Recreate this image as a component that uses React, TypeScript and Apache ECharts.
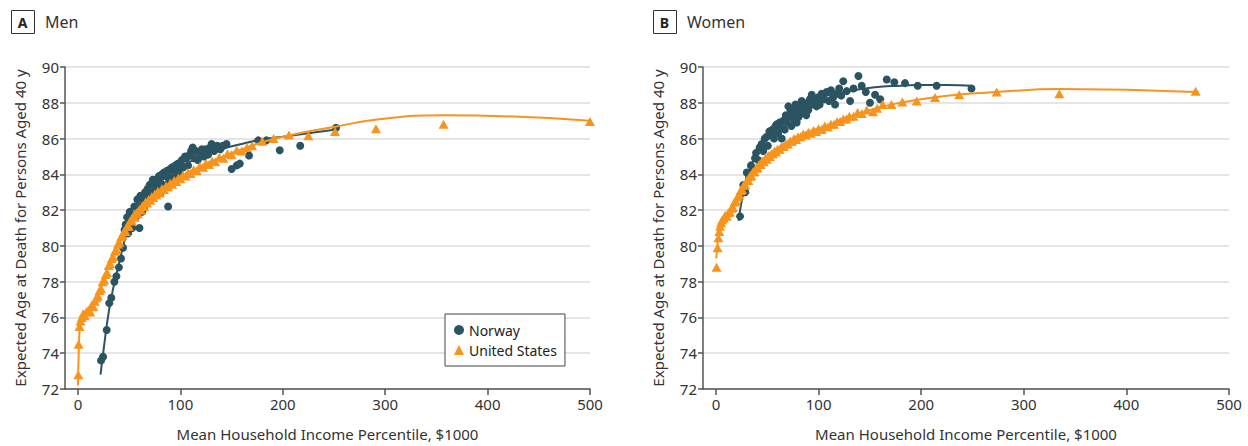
import React, { useEffect, useRef } from "react";
import * as echarts from "echarts";

const FONT = "'Noto Sans', sans-serif";
const TEAL = "#2b5462";
const ORANGE = "#f7941d";

const xTicks = [0, 100, 200, 300, 400, 500];
const yMin = 72;
const yMax = 90;

const panelTitles = ["Men", "Women"];
const panelLetters = ["A", "B"];
const legendNames = ["Norway", "United States"];
const xAxisTitle = "Mean Household Income Percentile, $1000";
const yAxisTitle = "Expected Age at Death for Persons Aged 40 y";

// Men – Norway percentile points
const norwayMen = [
  [22.5, 73.6], [24.5, 73.8], [28, 75.3], [30.5, 76.8], [32.5, 77.1], [35.5, 78.0], [37.5, 78.3], [40, 78.8], [42, 79.3], [44, 79.9],
  [45.5, 80.9], [46.5, 81.2], [48, 81.6], [49, 80.7], [50.5, 81.9], [51.5, 81.3], [53, 81.0], [55, 82.2], [56.5, 81.6], [58, 82.6],
  [59, 82.2], [60, 81.0], [61, 82.8], [62.5, 81.9], [63.5, 82.6], [64.5, 82.1], [65.5, 83.0], [67, 82.4], [68, 83.2], [69, 82.7],
  [70, 83.4], [71, 82.6], [72, 83.5], [73, 83.7], [74, 82.9], [75, 83.5], [76, 83.1], [77, 83.7], [78, 83.2], [79, 83.9],
  [80, 83.6], [81, 83.0], [82, 84.0], [83, 83.4], [84, 84.1], [85, 83.3], [86, 83.9], [87, 84.2], [88, 82.2], [89, 83.6],
  [90, 84.3], [91, 83.8], [92, 84.4], [93, 83.7], [95, 84.5], [96, 84.0], [97.5, 84.6], [99, 84.2], [100, 84.5], [101.5, 84.8],
  [103, 84.4], [104.5, 85.0], [106, 84.9], [107.5, 84.5], [109, 85.1], [110.5, 85.3], [112, 85.5], [113.5, 84.9], [115, 85.3], [117, 84.8],
  [119, 85.2], [121, 85.4], [123, 85.0], [125, 85.4], [127, 85.1], [129, 85.5], [130.5, 85.7], [133, 85.3], [136, 85.6], [139, 85.4],
  [141.5, 85.6], [145, 85.7], [150, 84.3], [155, 84.5], [158, 84.6], [167, 85.05], [176, 85.9], [184, 85.9], [197, 85.35], [217, 85.6], [252, 86.6],
];
const norwayMenFit = [
  [22, 72.8], [25, 74.2], [30, 76.3], [35, 77.8], [40, 79.0], [45, 80.2], [50, 81.1], [55, 81.8], [60, 82.3], [70, 83.0],
  [80, 83.6], [90, 84.0], [100, 84.4], [120, 85.0], [140, 85.4], [160, 85.7], [180, 85.95], [200, 86.1], [225, 86.3], [252, 86.5],
];

// Men – United States percentile points
const usMen = [
  [0.3, 72.8], [0.6, 74.5], [1.5, 75.5], [2.5, 75.8], [3.6, 76.0], [5, 76.2], [6.5, 76.1], [8, 76.3], [10, 76.4], [12, 76.3],
  [13.5, 76.7], [15, 76.6], [16.5, 76.9], [18, 77.1], [19.5, 77.2], [21, 77.5], [22.5, 77.6], [24, 78.0], [25.5, 78.1], [27, 78.4],
  [28.5, 78.5], [30, 78.9], [31.5, 79.0], [33, 79.3], [34.5, 79.4], [36, 79.7], [37.5, 79.8], [39, 80.1], [40.5, 80.2], [42, 80.5],
  [43.5, 80.6], [45, 80.8], [46.5, 80.8], [48, 81.1], [49.5, 81.1], [51, 81.4], [52.5, 81.4], [54, 81.65], [55.5, 81.6], [57, 81.85],
  [58.5, 81.8], [60, 82.05], [61.5, 82.0], [63, 82.25], [64.5, 82.2], [66, 82.45], [67.5, 82.4], [69, 82.6], [70.5, 82.55], [72, 82.75],
  [73.5, 82.7], [75, 82.9], [76.5, 82.85], [78, 83.05], [80, 82.95], [82, 83.2], [84, 83.15], [86, 83.35], [88, 83.3], [90, 83.5],
  [92, 83.45], [94, 83.65], [96, 83.6], [98, 83.8], [100, 83.75], [102.5, 83.95], [105, 83.9], [107.5, 84.1], [110, 84.05], [113, 84.25],
  [116, 84.2], [119, 84.45], [122, 84.4], [125, 84.6], [128, 84.55], [131, 84.75], [134, 84.7], [138, 84.95], [142, 84.9], [146, 85.15],
  [150, 85.1], [155, 85.35], [160, 85.3], [165, 85.5], [170, 85.6], [180, 85.85], [191, 86.0], [206, 86.2], [225, 86.15], [251, 86.4],
  [291, 86.55], [357, 86.8], [500, 86.95],
];
const usMenFit = [
  [0, 72.2], [1, 74.6], [2, 75.5], [4, 76.0], [8, 76.3], [14, 76.7], [20, 77.3], [30, 78.9], [40, 80.2], [50, 81.2],
  [60, 81.95], [70, 82.55], [80, 83.05], [100, 83.8], [120, 84.4], [140, 84.95], [160, 85.4], [180, 85.8], [200, 86.1], [225, 86.4],
  [250, 86.65], [290, 87.05], [357, 87.3], [500, 87.0],
];

// Women – Norway percentile points
const norwayWomen = [
  [23.4, 81.65], [26.6, 83.4], [28.5, 83.0], [30, 84.1], [32, 83.8], [34, 84.5], [36, 84.3], [38, 84.9], [39, 85.2], [41, 84.8],
  [42.5, 85.5], [44.5, 85.7], [46, 85.3], [47.5, 86.0], [49.4, 86.1], [50.5, 85.6], [52, 86.4], [53.5, 86.2], [55, 86.5], [56.5, 86.0],
  [58, 86.7], [59.2, 86.8], [60.5, 86.3], [62, 86.9], [63, 86.6], [64, 86.0], [65.5, 87.0], [67, 86.5], [68, 87.3], [69, 86.9],
  [70.5, 87.8], [71.5, 87.2], [72.5, 87.6], [73.5, 86.7], [74.5, 87.4], [75.4, 87.6], [76.5, 87.0], [77.5, 87.9], [78.6, 86.9], [79.5, 87.5],
  [80.5, 87.2], [81.5, 87.7], [82.5, 87.4], [83.5, 88.1], [85, 88.0], [86, 87.5], [87, 87.8], [88, 87.3], [89, 87.9], [90, 87.6],
  [91.5, 88.2], [93.3, 88.45], [94.5, 87.9], [96, 88.1], [98, 87.8], [99.5, 88.3], [101, 87.9], [103, 88.5], [105, 88.2], [107.8, 88.6],
  [110, 88.1], [112, 88.7], [114, 88.3], [116, 87.9], [118, 88.5], [120, 88.8], [122, 88.4], [124, 89.2], [127.4, 88.65], [130.7, 88.1],
  [134, 88.8], [138.8, 89.5], [142, 88.95], [146, 88.6], [150, 88.0], [155, 88.45], [160, 88.2], [166.4, 89.3], [173.8, 89.15], [184.2, 89.1],
  [196.6, 88.95], [215, 88.95], [249, 88.8],
];
const norwayWomenFit = [
  [22, 81.4], [25, 82.5], [30, 83.8], [35, 84.6], [40, 85.2], [50, 86.1], [60, 86.8], [70, 87.3], [80, 87.7], [90, 88.0],
  [100, 88.25], [120, 88.55], [140, 88.75], [160, 88.9], [180, 88.95], [200, 89.0], [225, 89.0], [249, 88.95],
];

// Women – United States percentile points
const usWomen = [
  [0.5, 78.8], [1.5, 79.9], [2.3, 80.45], [3.2, 80.8], [4, 81.1], [5, 81.3], [6, 81.45], [7.5, 81.55], [9, 81.7], [10.5, 81.65],
  [12, 81.85], [13.6, 81.9], [15, 82.1], [16.5, 82.15], [18, 82.45], [19.5, 82.5], [21, 82.75], [22.5, 82.85], [24, 83.1], [25.5, 83.15],
  [27, 83.4], [28.5, 83.4], [30, 83.65], [31.5, 83.65], [33, 83.9], [34.5, 83.9], [36, 84.15], [37.5, 84.15], [39, 84.35], [40.5, 84.35],
  [42, 84.55], [43.5, 84.55], [45, 84.75], [46.5, 84.7], [48, 84.9], [49.5, 84.85], [51, 85.05], [52.5, 85.0], [54, 85.15], [55.5, 85.15],
  [57, 85.3], [58.5, 85.25], [60, 85.4], [62, 85.4], [64, 85.55], [66, 85.55], [68, 85.7], [70, 85.7], [72, 85.85], [74, 85.85],
  [76, 86.0], [78, 85.95], [80, 86.1], [82.5, 86.1], [85, 86.25], [87.5, 86.2], [90, 86.35], [92.5, 86.3], [95, 86.45], [97.5, 86.4],
  [100, 86.55], [103, 86.5], [106, 86.7], [109, 86.65], [112, 86.8], [115, 86.8], [118, 86.95], [121, 86.95], [124, 87.1], [127, 87.1],
  [130, 87.25], [134, 87.25], [138, 87.45], [142, 87.4], [147, 87.6], [153, 87.5], [157, 87.7], [162.4, 87.9], [171, 87.9], [181.6, 88.05],
  [195.6, 88.1], [213.5, 88.3], [237, 88.45], [273.5, 88.6], [334.6, 88.5], [467.5, 88.65],
];
const usWomenFit = [
  [0.3, 79.3], [2, 80.4], [4, 81.1], [8, 81.6], [14, 81.95], [20, 82.6], [30, 83.6], [40, 84.35], [50, 84.95], [60, 85.4],
  [80, 86.05], [100, 86.5], [120, 86.95], [140, 87.4], [160, 87.75], [180, 88.0], [200, 88.2], [235, 88.45], [273, 88.6], [335, 88.77],
  [467, 88.6],
];

const panels = [
  { norway: norwayMen, norwayFit: norwayMenFit, us: usMen, usFit: usMenFit },
  { norway: norwayWomen, norwayFit: norwayWomenFit, us: usWomen, usFit: usWomenFit },
];

const gridPos = [
  { left: 65, top: 67, width: 525, height: 326 },
  { left: 703, top: 67, width: 526, height: 326 },
];
const headerX = [11, 653];

export default function App() {
  const ref = useRef<HTMLDivElement>(null);
  useEffect(() => {
    if (!ref.current) return;
    const chart = echarts.init(ref.current, null, { renderer: "svg" });
    const axisColor = "#555";
    const labelColor = "#333";

    const series: any[] = [];
    panels.forEach((p, i) => {
      series.push({
        type: "line", name: "Norway fit", xAxisIndex: i, yAxisIndex: i, data: p.norwayFit,
        showSymbol: false, smooth: true, lineStyle: { color: TEAL, width: 2 }, z: 2, silent: true,
      });
      series.push({
        type: "scatter", name: legendNames[0], xAxisIndex: i, yAxisIndex: i, data: p.norway,
        symbol: "circle", symbolSize: 8, itemStyle: { color: TEAL, opacity: 1 }, z: 3,
      });
      series.push({
        type: "line", name: "United States fit", xAxisIndex: i, yAxisIndex: i, data: p.usFit,
        showSymbol: false, smooth: true, lineStyle: { color: ORANGE, width: 2 }, z: 4, silent: true,
      });
      series.push({
        type: "scatter", name: legendNames[1], xAxisIndex: i, yAxisIndex: i, data: p.us,
        symbol: "triangle", symbolSize: [10, 9], itemStyle: { color: ORANGE, opacity: 1 }, z: 5,
      });
    });

    const graphics: any[] = [];
    panelLetters.forEach((l, i) => {
      const x = headerX[i];
      graphics.push({
        type: "rect", left: x, top: 10, shape: { width: 23, height: 23 },
        style: { fill: "#fff", stroke: "#333", lineWidth: 1 },
      });
      graphics.push({
        type: "text", x: x + 11.5, y: 22, style: {
          text: l, font: `bold 14px ${FONT}`, fill: "#222", align: "center", verticalAlign: "middle",
        },
      });
      graphics.push({
        type: "text", x: x + 34, y: 22, style: {
          text: panelTitles[i], font: `16px ${FONT}`, fill: "#333", align: "left", verticalAlign: "middle",
        },
      });
    });

    const option: any = {
      animation: false,
      textStyle: { fontFamily: FONT },
      grid: gridPos,
      legend: {
        data: [
          { name: legendNames[0], icon: "circle" },
          { name: legendNames[1], icon: "triangle" },
        ],
        orient: "vertical",
        left: 445,
        top: 314,
        itemWidth: 10,
        itemHeight: 10,
        itemGap: 6,
        padding: [9, 8, 9, 9],
        borderColor: "#444",
        borderWidth: 1,
        backgroundColor: "#fff",
        textStyle: { fontSize: 14, color: "#222", fontFamily: FONT },
        selectedMode: false,
      },
      xAxis: [0, 1].map((i) => ({
        gridIndex: i,
        type: "value",
        min: -12.7,
        max: 500,
        name: xAxisTitle,
        nameLocation: "middle",
        nameGap: 37,
        nameTextStyle: { fontSize: 15, color: labelColor, fontFamily: FONT },
        axisLine: { show: true, onZero: false, lineStyle: { color: axisColor, width: 1.5 } },
        axisTick: { show: true, customValues: xTicks, length: 6, lineStyle: { color: axisColor, width: 1.5 } },
        axisLabel: { customValues: xTicks, fontSize: 15, color: labelColor, margin: 7, fontFamily: FONT },
        splitLine: { show: false },
      })),
      yAxis: [0, 1].map((i) => ({
        gridIndex: i,
        type: "value",
        min: yMin,
        max: yMax,
        interval: 2,
        name: yAxisTitle,
        nameLocation: "middle",
        nameGap: 38,
        nameTextStyle: { fontSize: 15, color: labelColor, fontFamily: FONT },
        axisLine: { show: true, onZero: false, lineStyle: { color: axisColor, width: 1.5 } },
        axisTick: { show: true, length: 5, lineStyle: { color: axisColor, width: 1.5 } },
        axisLabel: { fontSize: 15, color: labelColor, margin: 6, fontFamily: FONT },
        splitLine: { show: true, lineStyle: { color: "#dcdcdc", width: 1.5 } },
      })),
      series,
      graphic: graphics,
    };
    chart.setOption(option);
    return () => chart.dispose();
  }, []);
  return (
    <div
      ref={ref}
      style={{ position: "fixed", left: 0, top: 0, width: 1248, height: 446, background: "#fff" }}
    />
  );
}
